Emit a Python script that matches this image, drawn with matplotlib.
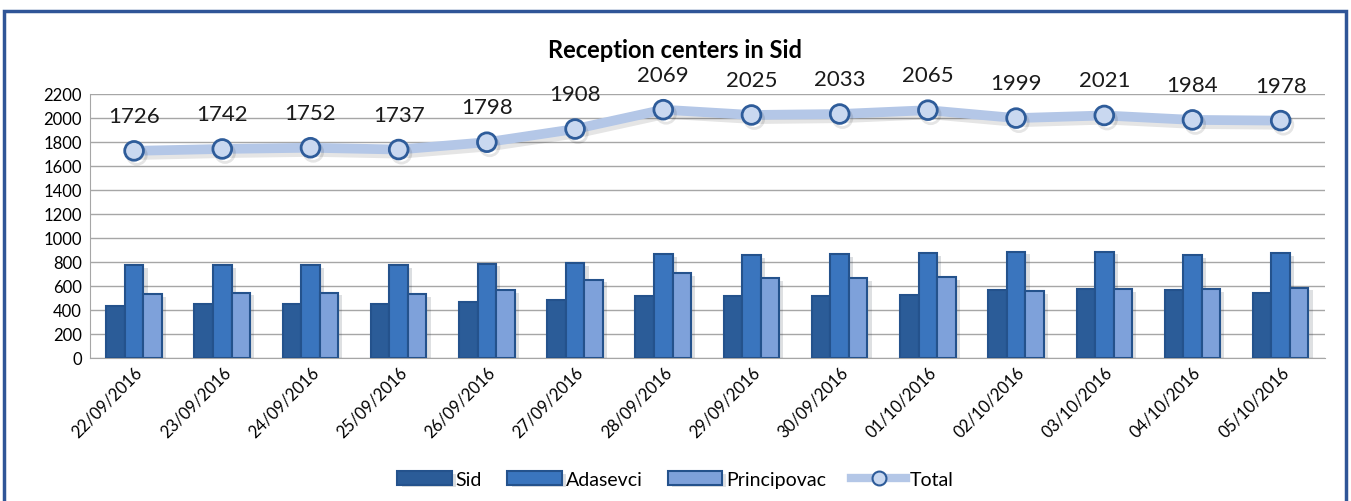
import numpy as np
import matplotlib.pyplot as plt
import matplotlib.patheffects as pe
from matplotlib.patches import Rectangle
from matplotlib.lines import Line2D

plt.rcParams["font.family"] = ["Lato", "DejaVu Sans"]

dates = ["22/09/2016", "23/09/2016", "24/09/2016", "25/09/2016", "26/09/2016",
         "27/09/2016", "28/09/2016", "29/09/2016", "30/09/2016", "01/10/2016",
         "02/10/2016", "03/10/2016", "04/10/2016", "05/10/2016"]
sid = [436, 447, 447, 447, 469, 486, 517, 514, 514, 525, 567, 575, 567, 539]
adasevci = [775, 775, 775, 775, 786, 792, 867, 856, 867, 875, 886, 886, 856, 875]
principovac = [531, 544, 544, 533, 564, 653, 706, 664, 664, 675, 556, 575, 575, 586]
total = [1726, 1742, 1752, 1737, 1798, 1908, 2069, 2025, 2033, 2065, 1999, 2021, 1984, 1978]

c_sid = "#2B5C98"
c_ada = "#3A75BE"
c_pri = "#7EA1DA"
c_edge = "#24528C"
c_line = "#B4C7E7"
c_mark = "#C9D8F0"
c_medge = "#2E5C9A"

fig = plt.figure(figsize=(13.51, 5.02), dpi=100)
ax = fig.add_axes([0.0666, 0.2849, 0.914, 0.5259])

x = np.arange(len(dates))
w = 0.21
shadow = [pe.SimplePatchShadow(offset=(3, -2), alpha=0.15), pe.Normal()]
handles = []
for off, vals, col, lab in [(-w, sid, c_sid, "Sid"), (0, adasevci, c_ada, "Adasevci"),
                            (w, principovac, c_pri, "Principovac")]:
    bars = ax.bar(x + off, vals, w, color=col, edgecolor=c_edge, linewidth=1.5,
                  label=lab, zorder=3)
    for b in bars:
        b.set_path_effects(shadow)
    handles.append(bars)

ax.plot(x, total, color=c_line, linewidth=7, marker="o", markersize=13.5,
        markerfacecolor=c_mark, markeredgecolor=c_medge, markeredgewidth=2,
        zorder=4, clip_on=False,
        path_effects=[pe.SimpleLineShadow(offset=(2, -3), alpha=0.1), pe.Normal()])
for xi, v in zip(x, total):
    ax.annotate(str(v), (xi, v), xytext=(0, 18), textcoords="offset points",
                ha="center", va="bottom", fontsize=16, color="#1a1a1a")

handles.append(Line2D([], [], color=c_line, linewidth=6, marker="o", markersize=10,
                      markerfacecolor=c_mark, markeredgecolor=c_medge, markeredgewidth=1.5))

ax.set_xlim(-0.5, len(dates) - 0.5)
ax.set_ylim(0, 2200)
ax.set_yticks(np.arange(0, 2201, 200))
ax.yaxis.grid(True, color="#A6A6A6", linewidth=1)
ax.set_axisbelow(True)
for s in ["top", "right"]:
    ax.spines[s].set_visible(False)
ax.spines["left"].set_color("#A6A6A6")
ax.spines["bottom"].set_color("#A6A6A6")
ax.tick_params(axis="y", length=0, labelsize=12, pad=6)
ax.tick_params(axis="x", length=0, labelsize=12, pad=4)
ax.set_xticks(x)
ax.set_xticklabels(dates, rotation=45, ha="right", rotation_mode="anchor")

fig.suptitle("Reception centers in Sid", x=0.5, y=0.922, fontsize=17, fontweight="bold")

fig.legend(handles, ["Sid", "Adasevci", "Principovac", "Total"], loc="lower center",
           bbox_to_anchor=(0.5, -0.008), ncol=4, frameon=False, fontsize=14,
           handlelength=2.8, handletextpad=0.2, columnspacing=1.3)

fig.patches.append(Rectangle((0.003, -0.05), 0.993, 1.026, transform=fig.transFigure,
                             fill=False, edgecolor="#2F5597", linewidth=2.5))

fig.savefig("out.png", dpi=100)
